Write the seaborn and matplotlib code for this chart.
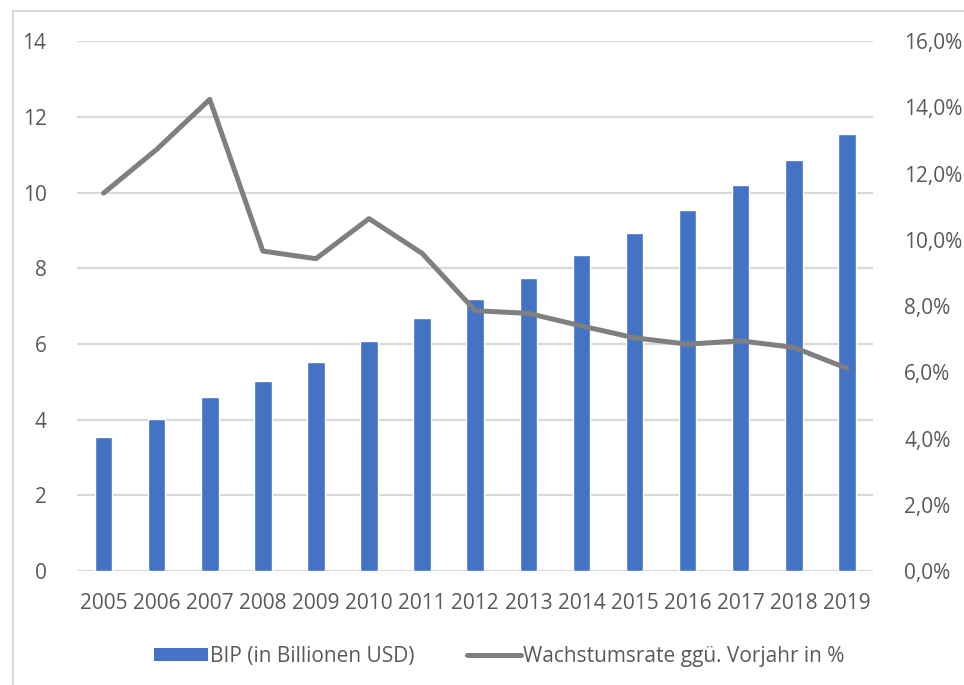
import matplotlib
matplotlib.use("Agg")
import matplotlib.pyplot as plt
import matplotlib.ticker as mticker
from matplotlib.patches import Patch, Rectangle
from matplotlib.lines import Line2D
import seaborn as sns
import pandas as pd

years = ["2005", "2006", "2007", "2008", "2009", "2010", "2011", "2012",
         "2013", "2014", "2015", "2016", "2017", "2018", "2019"]
bip = [3.55, 4.01, 4.59, 5.02, 5.52, 6.08, 6.68, 7.18,
       7.75, 8.34, 8.92, 9.53, 10.19, 10.87, 11.54]
growth = [0.1141, 0.1273, 0.1424, 0.0966, 0.0943, 0.1064, 0.0959, 0.0786,
          0.0778, 0.0740, 0.0704, 0.0685, 0.0695, 0.0675, 0.0612]

bar_label = "BIP (in Billionen USD)"
line_label = "Wachstumsrate ggü. Vorjahr in %"

BLUE = "#4472C4"
GREY_LINE = "#7F7F7F"
TEXT = "#595959"
GRID = "#D9D9D9"

sns.set_theme(style="white")
plt.rcParams["font.family"] = ["Open Sans", "DejaVu Sans"]

df = pd.DataFrame({"Jahr": years, "BIP": bip, "Wachstum": growth})

fig = plt.figure(figsize=(9.64, 6.85), dpi=100)
ax = fig.add_axes([0.0799, 0.1664, 0.9061 - 0.0799, 0.940 - 0.1664])

sns.barplot(data=df, x="Jahr", y="BIP", color=BLUE, width=0.33,
            saturation=1, ax=ax, zorder=2)
ax.set_ylim(0, 14)
ax.set_yticks(range(0, 15, 2))
ax.set_xlim(-0.5, len(years) - 0.5)
ax.yaxis.grid(True, color=GRID, linewidth=1.6, zorder=0)
ax.set_axisbelow(True)
ax.set_xlabel("")
ax.set_ylabel("")

ax2 = ax.twinx()
sns.pointplot(data=df, x="Jahr", y="Wachstum", color=GREY_LINE, markers="",
              linewidth=3.6, ax=ax2)
for ln in ax2.lines:
    ln.set_solid_capstyle("round")
    ln.set_solid_joinstyle("round")
ax2.set_ylim(0, 0.16)
ax2.set_yticks([i * 0.02 for i in range(9)])
ax2.yaxis.set_major_formatter(
    mticker.FuncFormatter(lambda v, p: f"{v * 100:.1f}%".replace(".", ",")))
ax2.set_xlim(-0.5, len(years) - 0.5)
ax2.set_ylabel("")
ax2.set_xlabel("")

for a in (ax, ax2):
    for s in a.spines.values():
        s.set_visible(False)
    a.tick_params(axis="both", length=0, colors=TEXT, labelsize=15)
ax.tick_params(axis="y", pad=22)
ax2.tick_params(axis="y", pad=22)
ax.tick_params(axis="x", pad=16)
for lab in ax.get_xticklabels() + ax.get_yticklabels() + ax2.get_yticklabels():
    lab.set_color(TEXT)

handles = [Patch(facecolor=BLUE, edgecolor="none"),
           Line2D([0], [0], color=GREY_LINE, linewidth=3.6, solid_capstyle="round")]
leg = fig.legend(handles, [bar_label, line_label], loc="center",
                 bbox_to_anchor=(0.518, 0.042), ncol=2, frameon=False,
                 fontsize=15, handlelength=2.6, handleheight=0.6,
                 handletextpad=0.1, columnspacing=2.5)
for t in leg.get_texts():
    t.set_color(TEXT)

# chart area frame
fig.patches.append(Rectangle((13 / 964, -0.1), 1.2, 1.1 - 11.5 / 685,
                             transform=fig.transFigure, fill=False,
                             edgecolor=GRID, linewidth=1.5, zorder=0))

fig.savefig("out.png", dpi=100)
